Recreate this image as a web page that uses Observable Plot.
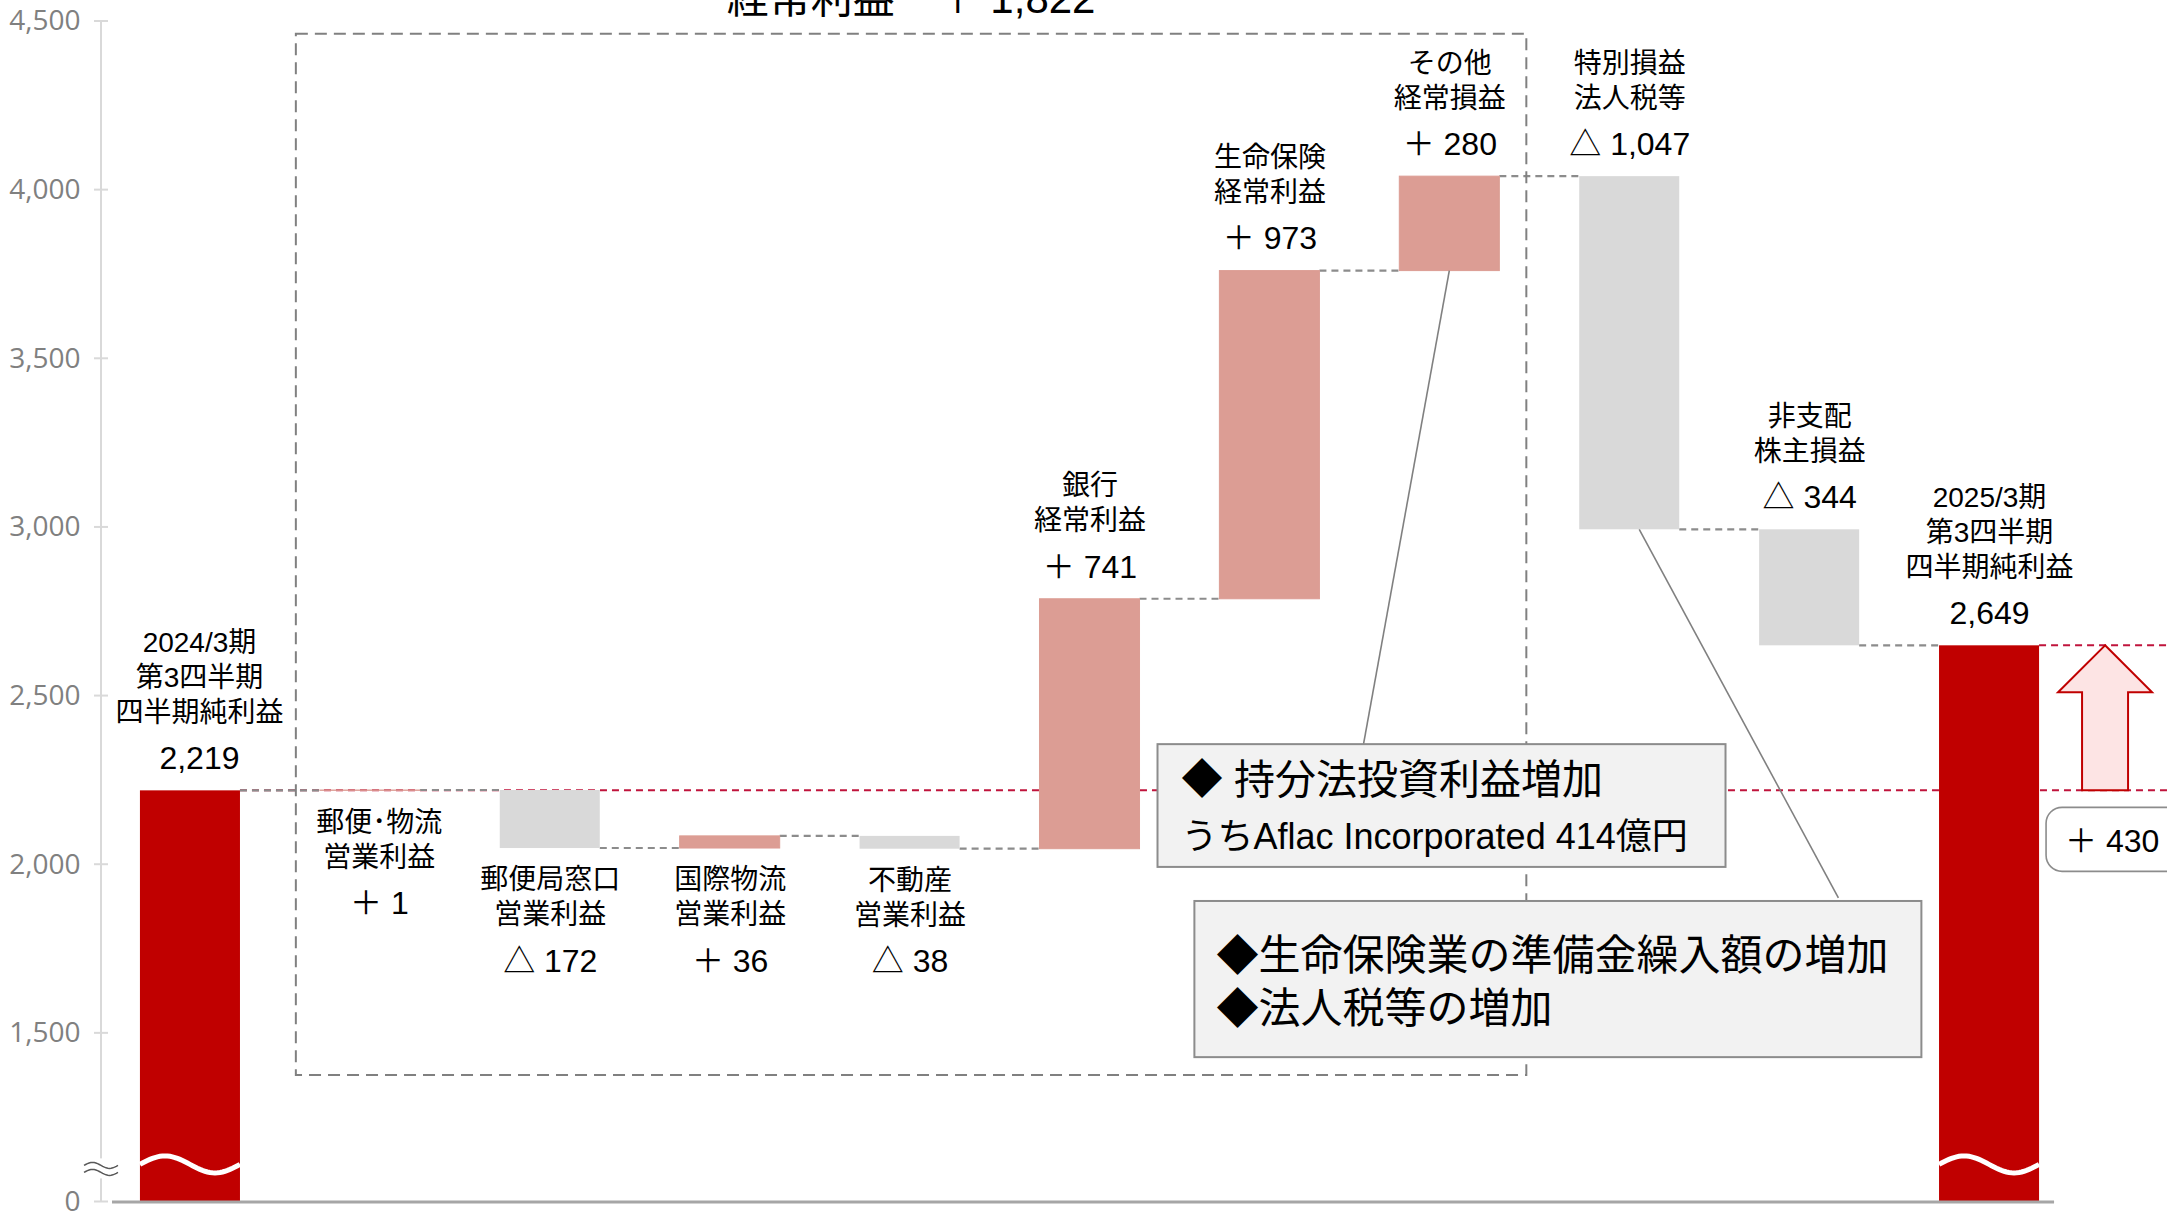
<!DOCTYPE html>
<html><head><meta charset="utf-8">
<script src="https://cdn.jsdelivr.net/npm/d3@7"></script>
<script src="https://cdn.jsdelivr.net/npm/@observablehq/plot@0.6"></script>
<style>
html,body{margin:0;padding:0;background:#fff;overflow:hidden;}
#chart svg{display:block;overflow:hidden;}
</style>
</head><body><div id="chart"></div>
<script>
// ---------------- data ----------------
const categories = [
  "2024/3期\n第3四半期\n四半期純利益",
  "郵便･物流\n営業利益",
  "郵便局窓口\n営業利益",
  "国際物流\n営業利益",
  "不動産\n営業利益",
  "銀行\n経常利益",
  "生命保険\n経常利益",
  "その他\n経常損益",
  "特別損益\n法人税等",
  "非支配\n株主損益",
  "2025/3期\n第3四半期\n四半期純利益"
];
const values = [2219, 1, -172, 36, -38, 741, 973, 280, -1047, -344, 2649];
const kinds = ["total", "delta", "delta", "delta", "delta", "delta", "delta", "delta", "delta", "delta", "total"];
const yTickValues = [0, 1500, 2000, 2500, 3000, 3500, 4000, 4500];
const subtotalTitle = "経常利益";
const subtotalValue = 1822;
const noteEquity = ["◆ 持分法投資利益増加", "うちAflac Incorporated 414億円"];
const noteTax = ["◆生命保険業の準備金繰入額の増加", "◆法人税等の増加"];

// ---------------- layout constants ----------------
const W = 2167, H = 1215;
const axisFloor = 1000;      // broken axis: where "0" is displayed
const breakMark = 1110;      // where the break waves are drawn
const toDisplay = v => v === 0 ? axisFloor : v;
const fmt = d3.format(",");
const FONT = "'Liberation Sans', 'Noto Sans CJK JP', sans-serif";
const RED = "#C00000", PINK = "#DC9D94", GREY = "#D9D9D9";

// ---------------- derived rows ----------------
let run = 0;
const rows = categories.map((cat, i) => {
  const v = values[i], kind = kinds[i];
  let start, end;
  if (kind === "total") { start = axisFloor; end = v; run = v; }
  else { start = run; end = run + v; run = end; }
  return {cat, value: v, kind, start, end, top: Math.max(start, end), bottom: Math.min(start, end)};
});

const belowLabel = new Set(categories.slice(1, 5));
const shifted = new Set(categories.slice(0, 2));
const LINE = 35, GAP_VAL = 32, GAP_LAST = 46;
const labelRows = [];
rows.forEach(r => {
  const lines = r.cat.split("\n"), n = lines.length;
  const dx = shifted.has(r.cat) ? 9 : 0;
  const vtext = r.kind === "total" ? fmt(r.value) : (r.value > 0 ? "＋ " : "△ ") + fmt(Math.abs(r.value));
  if (belowLabel.has(r.cat)) {
    lines.forEach((t, j) => labelRows.push({cat: r.cat, y: r.bottom, dx, dy: GAP_VAL + j * LINE, fs: 28, text: t}));
    labelRows.push({cat: r.cat, y: r.bottom, dx, dy: GAP_VAL + (n - 1) * LINE + GAP_LAST, fs: 32, text: vtext});
  } else {
    lines.forEach((t, j) => labelRows.push({cat: r.cat, y: r.top, dx, dy: -GAP_VAL - GAP_LAST - (n - 1 - j) * LINE, fs: 28, text: t}));
    labelRows.push({cat: r.cat, y: r.top, dx, dy: -GAP_VAL, fs: 32, text: vtext});
  }
});
const textMarks = Array.from(d3.group(labelRows, d => d.dx + "|" + d.dy + "|" + d.fs), ([key, arr]) =>
  Plot.text(arr, {x: "cat", y: "y", text: "text", dx: arr[0].dx, dy: arr[0].dy, fontSize: arr[0].fs, fontFamily: FONT, fill: "#000"})
);

// ---------------- plot ----------------
const chart = Plot.plot({
  width: W, height: H,
  marginTop: 21, marginBottom: 13.5, marginLeft: 100, marginRight: 88,
  style: {background: "#fff", overflow: "hidden", fontFamily: "'Open Sans', sans-serif"},
  x: {type: "band", domain: categories, paddingInner: 0.444, paddingOuter: 0.222, round: false, axis: null},
  y: {domain: [axisFloor, 4500], axis: null, label: null},
  marks: [
    Plot.axisY({ticks: yTickValues.map(toDisplay), tickFormat: d => d === axisFloor ? "0" : fmt(d),
      tickSize: 0, tickPadding: 20, fontSize: 28, color: "#808080", label: null}),
    Plot.barY(rows.filter(d => d.kind === "total"), {x: "cat", y1: "start", y2: "end", fill: RED, inset: 0}),
    Plot.barY(rows.filter(d => d.kind === "delta" && d.value > 0), {x: "cat", y1: "start", y2: "end", fill: PINK, stroke: PINK, strokeWidth: 1, inset: 0}),
    Plot.barY(rows.filter(d => d.kind === "delta" && d.value < 0), {x: "cat", y1: "start", y2: "end", fill: GREY, inset: 0}),
    ...textMarks
  ]
});
document.getElementById("chart").appendChild(chart);
chart.style.overflow = "hidden";

// ---------------- decorations via Plot's scales ----------------
const sx = chart.scale("x"), sy = chart.scale("y");
const X = typeof sx.apply === "function" ? (c => sx.apply(c)) :
  d3.scaleBand(sx.domain, sx.range).paddingInner(sx.paddingInner).paddingOuter(sx.paddingOuter).align(sx.align ?? 0.5);
const bw = sx.bandwidth;
const Y = typeof sy.apply === "function" ? (v => sy.apply(v)) : d3.scaleLinear(sy.domain, sy.range);

const firstBar = chart.querySelector('g[aria-label="bar"]');
const backNode = document.createElementNS("http://www.w3.org/2000/svg", "g");
chart.insertBefore(backNode, firstBar);
const back = d3.select(backNode);
const front = d3.select(chart).append("g").attr("text-anchor", "start");

const total0 = rows[0], total1 = rows[rows.length - 1];

// red dashed reference lines
[[total0, total0.end], [total1, total1.end]].forEach(([r, v]) => {
  back.append("line").attr("x1", X(r.cat) + bw).attr("x2", W).attr("y1", Y(v)).attr("y2", Y(v))
    .attr("stroke", "#C0143C").attr("stroke-width", 2).attr("stroke-dasharray", "7 5");
});
// grey connectors
for (let i = 0; i < rows.length - 1; i++) {
  const yv = Y(rows[i].end);
  back.append("line").attr("x1", X(rows[i].cat) + bw).attr("x2", X(rows[i + 1].cat)).attr("y1", yv).attr("y2", yv)
    .attr("stroke", "#8C8C8C").attr("stroke-width", 2.2).attr("stroke-dasharray", "7 5");
}
// subtotal dashed box
const bx1 = X(categories[1]) - 24, bx2 = X(categories[7]) + bw + 27;
back.append("rect").attr("x", bx1).attr("y", Y(4462)).attr("width", bx2 - bx1).attr("height", Y(1375) - Y(4462))
  .attr("fill", "none").attr("stroke", "#808080").attr("stroke-width", 2).attr("stroke-dasharray", "12 7");
front.append("text").attr("x", (bx1 + bx2) / 2).attr("y", 13).attr("text-anchor", "middle")
  .attr("font-family", FONT).attr("font-size", 42).attr("fill", "#000")
  .text(subtotalTitle + "　＋ " + fmt(subtotalValue));

// y axis line, ticks, baseline
const axX = sx.range[0] + 1;
front.append("line").attr("x1", axX).attr("x2", axX).attr("y1", Y(4500)).attr("y2", Y(axisFloor))
  .attr("stroke", "#D9D9D9").attr("stroke-width", 2);
yTickValues.forEach(t => {
  const yy = Y(toDisplay(t));
  front.append("line").attr("x1", axX - 7).attr("x2", axX + 7).attr("y1", yy).attr("y2", yy)
    .attr("stroke", "#D9D9D9").attr("stroke-width", 2);
});
front.append("line").attr("x1", axX + 11).attr("x2", X(total1.cat) + bw + 15)
  .attr("y1", Y(axisFloor) + 0.5).attr("y2", Y(axisFloor) + 0.5)
  .attr("stroke", "#A6A6A6").attr("stroke-width", 3);

// break marks
const waveLine = d3.line();
const yb = Y(breakMark);
rows.filter(r => r.kind === "total").forEach(r => {
  const x0 = X(r.cat);
  const pts = d3.range(0, 1.0001, 0.025).map(t => [x0 + t * bw, yb - 8.5 * Math.sin(2 * Math.PI * t)]);
  front.append("path").attr("d", waveLine(pts)).attr("fill", "none").attr("stroke", "#fff").attr("stroke-width", 5);
});
front.append("rect").attr("x", axX - 6).attr("y", yb - 6).attr("width", 12).attr("height", 20).attr("fill", "#fff");
[yb + 1, yb + 8].forEach(y0 => {
  const pts = d3.range(0, 1.0001, 0.05).map(t => [axX - 17 + t * 34, y0 - 3 * Math.sin(2 * Math.PI * t)]);
  front.append("path").attr("d", waveLine(pts)).attr("fill", "none").attr("stroke", "#595959").attr("stroke-width", 1.5);
});

// annotation 1: equity-method income
const bar8 = rows[7], bar9 = rows[8];
const a1x = X(categories[5]) + bw + 18, a1y = Y(2356), a1w = 568, a1h = Y(1992) - Y(2356);
front.append("line").attr("x1", a1x + 206).attr("y1", a1y).attr("x2", X(bar8.cat) + bw / 2).attr("y2", Y(bar8.start))
  .attr("stroke", "#808080").attr("stroke-width", 1.6);
front.append("rect").attr("x", a1x).attr("y", a1y).attr("width", a1w).attr("height", a1h)
  .attr("fill", "#F2F2F2").attr("stroke", "#8C8C8C").attr("stroke-width", 2);
front.append("text").attr("x", a1x + 24).attr("y", a1y + 36).attr("dy", "0.35em").attr("font-family", FONT)
  .attr("font-size", 41).attr("text-anchor", "start").text(noteEquity[0]);
front.append("text").attr("x", a1x + 24).attr("y", a1y + 92).attr("dy", "0.35em").attr("font-family", FONT)
  .attr("font-size", 36).attr("text-anchor", "start").text(noteEquity[1]);

// annotation 2: reserves & taxes
const a2x = X(categories[6]) - 25, a2y = Y(1891), a2w = 727, a2h = Y(1428) - Y(1891);
front.append("line").attr("x1", a2x + 644).attr("y1", a2y - 3).attr("x2", X(bar9.cat) + bw / 2 + 10).attr("y2", Y(bar9.end))
  .attr("stroke", "#808080").attr("stroke-width", 1.6);
front.append("rect").attr("x", a2x).attr("y", a2y).attr("width", a2w).attr("height", a2h)
  .attr("fill", "#F2F2F2").attr("stroke", "#8C8C8C").attr("stroke-width", 2);
front.append("text").attr("x", a2x + 22).attr("y", a2y + 54).attr("dy", "0.35em").attr("font-family", FONT)
  .attr("font-size", 42).attr("text-anchor", "start").text(noteTax[0]);
front.append("text").attr("x", a2x + 22).attr("y", a2y + 107).attr("dy", "0.35em").attr("font-family", FONT)
  .attr("font-size", 42).attr("text-anchor", "start").text(noteTax[1]);

// increase arrow and label
const xr = X(total1.cat) + bw;
const tip = xr + 66, yT = Y(total1.end), yB = Y(total0.end), hh = 47;
front.append("path")
  .attr("d", `M${tip},${yT} L${tip + 47},${yT + hh} L${tip + 23},${yT + hh} L${tip + 23},${yB} L${tip - 23},${yB} L${tip - 23},${yT + hh} L${tip - 47},${yT + hh} Z`)
  .attr("fill", "#FDE4E4").attr("stroke", RED).attr("stroke-width", 2).attr("stroke-linejoin", "miter");
front.append("rect").attr("x", xr + 7).attr("y", yB + 17).attr("width", 150).attr("height", 64).attr("rx", 16)
  .attr("fill", "#fff").attr("stroke", "#8C8C8C").attr("stroke-width", 1.6);
front.append("text").attr("x", xr + 26).attr("y", yB + 50).attr("dy", "0.35em").attr("font-family", FONT)
  .attr("font-size", 32).attr("text-anchor", "start").text("＋ " + fmt(total1.value - total0.value));
</script>
</body></html>
